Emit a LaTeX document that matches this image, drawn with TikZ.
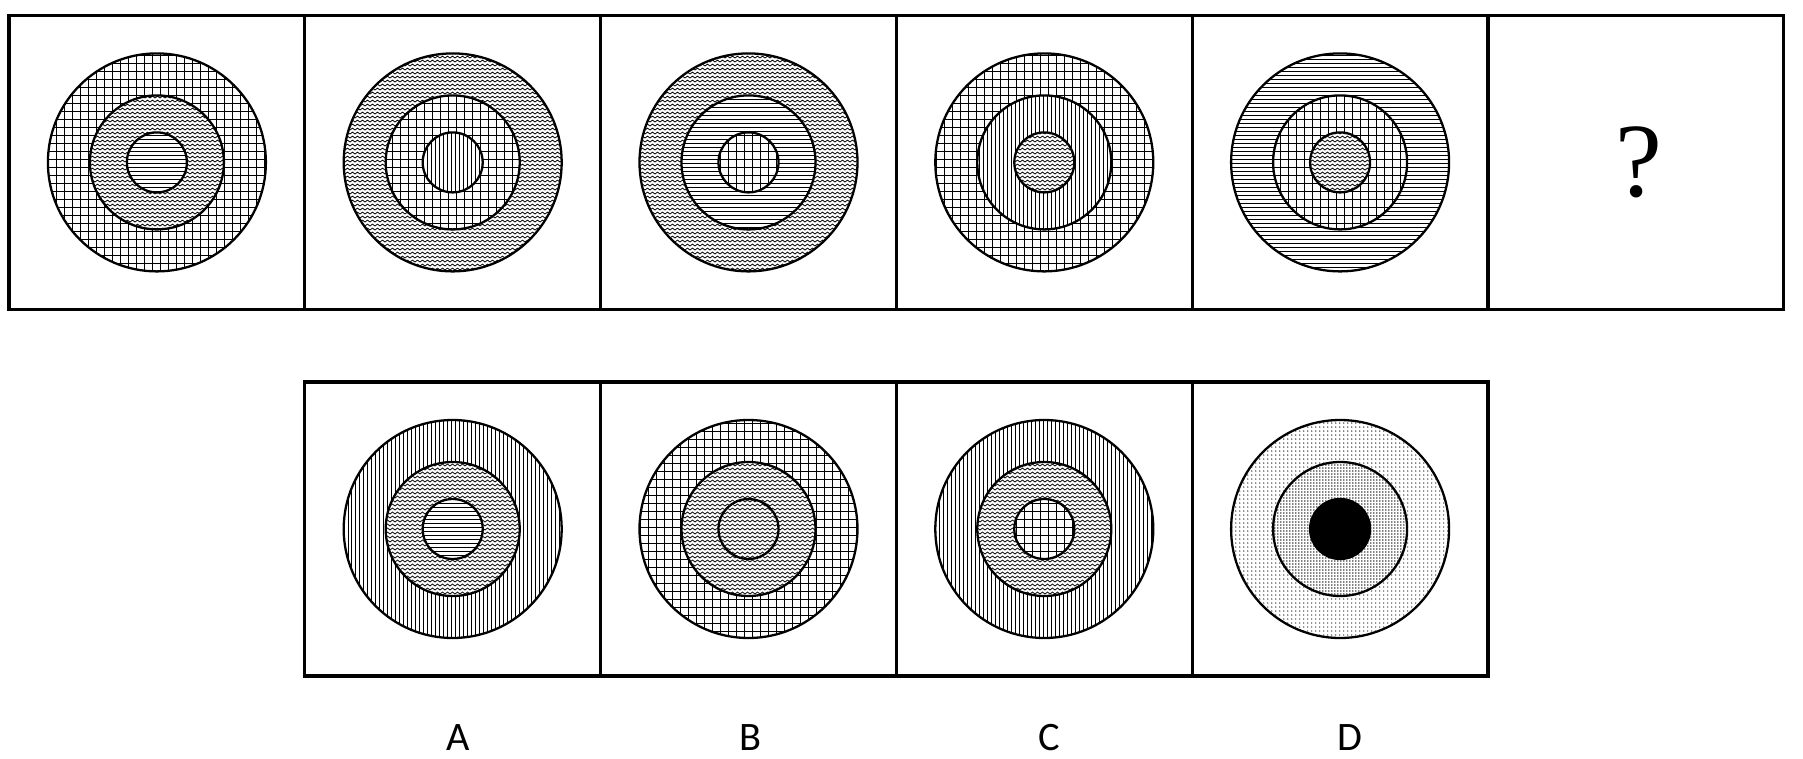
\documentclass[tikz,border=0pt]{standalone}
\usepackage{fontspec}
\newfontfamily\lblfont{Carlito}
\newfontfamily\qfont{Liberation Serif}
\usepackage{tikz}
\usetikzlibrary{patterns,patterns.meta,positioning}
\pgfdeclarepatternformonly{zigzag}{\pgfqpoint{-0.1pt}{-0.1pt}}{\pgfqpoint{1.52pt}{1.24pt}}{\pgfqpoint{1.4226pt}{1.138pt}}{%
  \pgfsetlinewidth{0.22pt}%
  \pgfpathmoveto{\pgfqpoint{0pt}{0.28pt}}%
  \pgfpathlineto{\pgfqpoint{0.7113pt}{0.85pt}}%
  \pgfpathlineto{\pgfqpoint{1.4226pt}{0.28pt}}%
  \pgfusepath{stroke}}
\newcommand{\target}[4]{%
  \node[ring, minimum size=2.18cm, #2] (#1o) at (#1) {};
  \node[ring, minimum size=1.34cm, #3] (#1m) at (#1) {};
  \node[ring, minimum size=0.60cm, #4] (#1i) at (#1) {};}
\tikzset{
  panel/.style={draw, line width=0.95pt, minimum width=2.958cm, minimum height=2.94cm, inner sep=0pt, outer sep=0pt},
  ring/.style={circle, draw, line width=0.65pt, inner sep=0pt, preaction={fill=white}},
  grd/.style={pattern={Hatch[distance=0.08cm, angle=0, line width=0.22pt]}},
  hln/.style={pattern={Lines[distance=0.04cm, angle=0, line width=0.25pt]}},
  vln/.style={pattern={Lines[distance=0.04cm, angle=90, line width=0.25pt]}},
  wav/.style={pattern=zigzag},
  dlt/.style={pattern={Dots[distance=0.04cm, radius=0.2pt]}},
  ddk/.style={pattern={Dots[distance=0.03cm, radius=0.22pt]}},
  blk/.style={fill=black},
  lbl/.style={font=\lblfont\fontsize{11.5}{13}\selectfont},
}

\begin{document}
\begin{tikzpicture}[x=1cm,y=1cm]
\useasboundingbox (0,0) rectangle (18.03,-7.59);
% question row
\node[panel] (p1) at (1.569,-1.624) {};
\node[panel, right=0pt of p1] (p2) {};
\node[panel, right=0pt of p2] (p3) {};
\node[panel, right=0pt of p3] (p4) {};
\node[panel, right=0pt of p4] (p5) {};
\node[panel, right=0pt of p5] (p6) {};
\target{p1}{grd}{wav}{hln}
\target{p2}{wav}{grd}{vln}
\target{p3}{wav}{hln}{grd}
\target{p4}{grd}{vln}{wav}
\target{p5}{hln}{grd}{wav}
\node[font=\qfont\fontsize{30}{36}\selectfont] (qm) at ([xshift=0.03cm]p6) {?};
% answer row
\node[panel, below=0.726cm of p2] (a) {};
\node[panel, right=0pt of a] (b) {};
\node[panel, right=0pt of b] (c) {};
\node[panel, right=0pt of c] (d) {};
\target{a}{vln}{wav}{hln}
\target{b}{grd}{wav}{wav}
\target{c}{vln}{wav}{grd}
\target{d}{dlt}{ddk}{blk}
\node[lbl] (la) at (4.58,-7.38) {A};
\node[lbl] (lb) at (7.50,-7.38) {B};
\node[lbl] (lc) at (10.49,-7.38) {C};
\node[lbl] (ld) at (13.50,-7.38) {D};
\end{tikzpicture}
\end{document}
